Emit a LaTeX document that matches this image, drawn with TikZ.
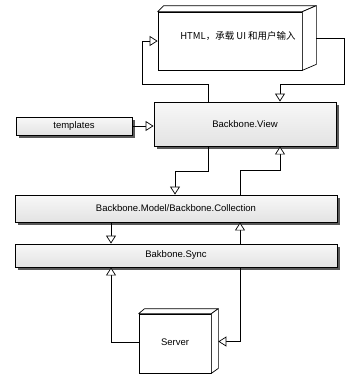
\documentclass[tikz,border=0pt]{standalone}
\usepackage{fontspec}
\setmainfont{Liberation Sans}
\newfontfamily\cjk{Noto Sans CJK SC}
\usetikzlibrary{arrows.meta,shadows,calc}
\begin{document}
\begin{tikzpicture}[x=1pt,y=-1pt,
  font=\fontsize{9.5}{11}\selectfont,
  line width=0.7pt,
  arr/.style={-{Triangle[open,length=8pt,width=10pt,fill=white]}},
  flatbox/.style={draw=black,line width=0.9pt,top color=gray!6,bottom color=gray!22,
    drop shadow={shadow xshift=2.5pt,shadow yshift=-2.5pt,fill=black!65,opacity=1},
    inner sep=0pt},
  cube/.style={draw=black,line width=0.7pt,fill=white,inner sep=0pt},
  face/.style={draw=black,line width=0.7pt,fill=white,line join=round}]
\useasboundingbox (0,0) rectangle (360,380);

% HTML 3D box
\node[cube,minimum width=144pt,minimum height=58pt] (html) at (230,41) {};
\draw[face] (html.north west) -- ++(6,-6) -- ($(html.north east)+(14,-6)$) -- (html.north east) -- cycle;
\draw[face] (html.north east) -- ($(html.north east)+(14,-6)$) -- ($(html.south east)+(14,-6)$) -- (html.south east) -- cycle;
\node at (238,36) {\cjk HTML，承载 UI 和用户输入};

% Server 3D box
\node[cube,minimum width=72pt,minimum height=59pt] (server) at (175,343.5) {};
\draw[face] (server.north west) -- ++(6,-5) -- ($(server.north east)+(7,-5)$) -- (server.north east) -- cycle;
\draw[face] (server.north east) -- ($(server.north east)+(7,-5)$) -- ($(server.south east)+(7,-5)$) -- (server.south east) -- cycle;
\node at (175,342) {Server};

% flat boxes
\node[flatbox,minimum width=182pt,minimum height=44pt] (view) at (245,124) {Backbone.View};
\node[flatbox,minimum width=116pt,minimum height=18pt] (templates) at (74,126) {templates};
\node[flatbox,minimum width=322pt,minimum height=27pt] (model) at (176,208.5) {Backbone.Model/Backbone.Collection};
\node[flatbox,minimum width=322pt,minimum height=23pt] (sync) at (176,255.5) {Bakbone.Sync};

% connectors
\draw[arr] ([xshift=14pt,yshift=3pt]html.east) -- ++(28,0) |- ($(view.north)+(35,-17)$) -- ([xshift=35pt]view.north);
\draw[arr] ([xshift=-37pt]view.north) -- ++(0,-17) -| ($(html.west)+(-15,0)$) -- (html.west);
\draw[arr] (templates.east) -- (templates.east -| view.west);
\draw[arr] ([xshift=-37pt]view.south) -- ++(0,25) -| ([xshift=-1pt]model.north);
\draw[arr] ([xshift=64pt]model.north) -- ++(0,-24) -| ([xshift=35pt]view.south);
\draw[arr] ([xshift=-65pt]model.south) -- ([xshift=-65pt]sync.north);
\draw[arr] ([xshift=64pt]sync.north) -- ([xshift=64pt]model.south);
\draw[arr] ([xshift=64pt]sync.south) |- ($(server.east)+(7,-2)$);
\draw[arr] ([yshift=1pt]server.west) -| ([xshift=-65pt]sync.south);
\end{tikzpicture}
\end{document}
